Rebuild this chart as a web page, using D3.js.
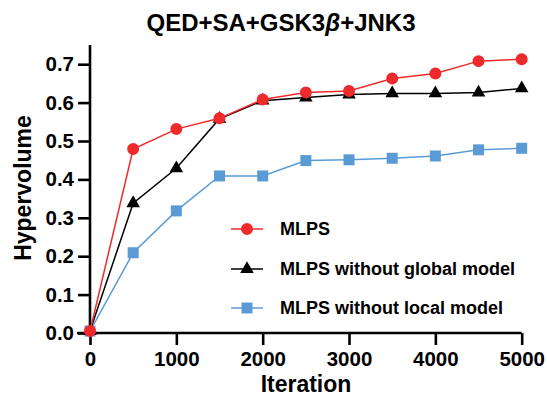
<!DOCTYPE html>
<html><head><meta charset="utf-8">
<script src="https://cdn.jsdelivr.net/npm/d3@7"></script>
<style>body{margin:0;background:#fff}svg{display:block}text{font-family:"Liberation Sans",Arial,sans-serif;font-weight:bold;fill:#000}</style>
</head><body><svg id="c" width="547" height="398"></svg>
<script>
const iterations = [0,500,1000,1500,2000,2500,3000,3500,4000,4500,5000];
const mlps = [0.005,0.479,0.531,0.559,0.608,0.626,0.630,0.663,0.676,0.708,0.713];
const noGlobal = [0.005,0.338,0.429,0.558,0.605,0.613,0.621,0.624,0.624,0.626,0.637];
const noLocal = [0.005,0.209,0.318,0.409,0.409,0.449,0.451,0.455,0.461,0.477,0.481];
const xTicks = [0,1000,2000,3000,4000,5000];
const yTicks = [0,0.1,0.2,0.3,0.4,0.5,0.6,0.7];
const seriesNames = ["MLPS","MLPS without global model","MLPS without local model"];
const colors = ["#EE2A2A","#000000","#5B9BD5"];
const shapes = [d3.symbolCircle,d3.symbolTriangle,d3.symbolSquare];
const sizes = [113,80,121];

const svg = d3.select("#c");
const x = d3.scaleLinear().domain([0,5000]).range([90,521.7]);
const y = d3.scaleLinear().domain([0,0.75]).range([333,45]);

// axes
const xa = svg.append("g").attr("transform","translate(0,333)")
  .call(d3.axisBottom(x).tickValues(xTicks).tickFormat(d3.format("d")).tickSize(12).tickPadding(6));
const ya = svg.append("g").attr("transform","translate(90,0)")
  .call(d3.axisLeft(y).tickValues(yTicks).tickFormat(d3.format(".1f")).tickSize(12).tickPadding(4));
[xa,ya].forEach(a=>{
  a.selectAll("path").attr("stroke","#000").attr("stroke-width",2.6);
  a.selectAll("line").attr("stroke","#000").attr("stroke-width",2.6);
  a.selectAll("text").style("font-size","20.5px").style("font-weight","bold").attr("fill","#000");
});
xa.select(".domain").attr("d","M77,0H"+x(5000));
ya.select(".domain").attr("d","M0,"+y(0)+"V"+y(0.75));

// series
const data = [mlps,noGlobal,noLocal];
const line = d3.line().x((d,i)=>x(iterations[i])).y(d=>y(d));
[2,1,0].forEach(k=>{
  const g = svg.append("g");
  g.append("path").datum(data[k]).attr("d",line).attr("fill","none")
    .attr("stroke",colors[k]).attr("stroke-width",1.5);
  g.selectAll("path.m").data(data[k]).enter().append("path").attr("class","m")
    .attr("transform",(d,i)=>`translate(${x(iterations[i])},${y(d)})`)
    .attr("d",d3.symbol().type(shapes[k]).size(sizes[k])).attr("fill",colors[k]);
});

// legend
const ly = [229,269,308];
seriesNames.forEach((n,k)=>{
  const g = svg.append("g").attr("transform",`translate(0,${ly[k]})`);
  g.append("line").attr("x1",231).attr("x2",263).attr("stroke",colors[k]).attr("stroke-width",1.5);
  g.append("path").attr("transform","translate(247,0)")
    .attr("d",d3.symbol().type(shapes[k]).size(sizes[k])).attr("fill",colors[k]);
  g.append("text").attr("x",280).attr("y",6).style("font-size","18px").text(n);
});

// titles
const t = svg.append("text").attr("x",281).attr("y",31).attr("text-anchor","middle").style("font-size","24px");
t.append("tspan").text("QED+SA+GSK3");
t.append("tspan").style("font-style","italic").text("β");
t.append("tspan").text("+JNK3");
svg.append("text").attr("x",306).attr("y",392).attr("text-anchor","middle").style("font-size","23px").text("Iteration");
svg.append("text").attr("transform","translate(31,188) rotate(-90)").attr("text-anchor","middle").style("font-size","23px").text("Hypervolume");
</script></body></html>
